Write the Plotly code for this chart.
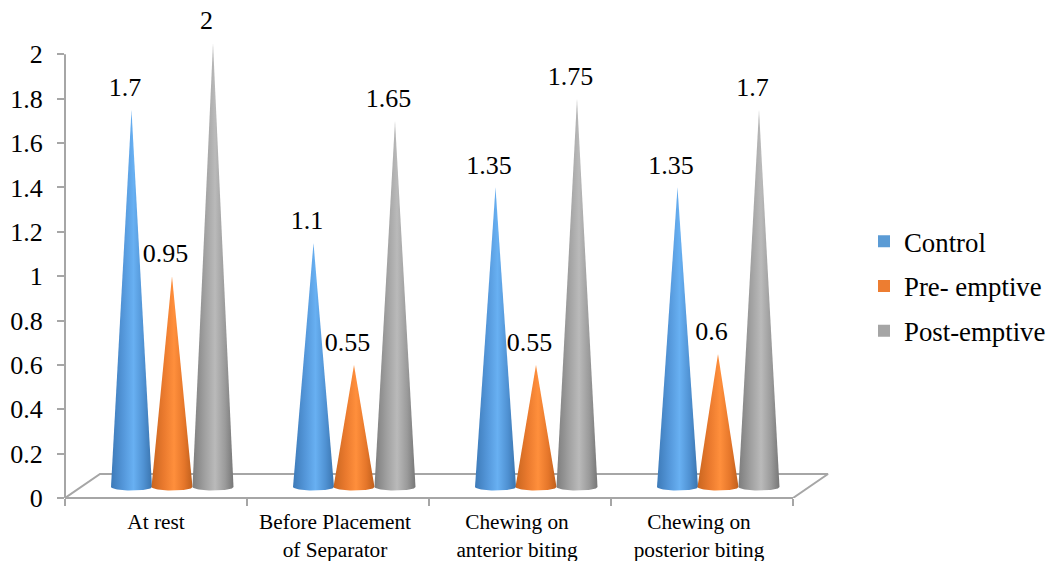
import numpy as np
import plotly.graph_objects as go

categories = ["At rest", "Before Placement<br>of Separator", "Chewing on<br>anterior biting", "Chewing on<br>posterior biting"]
series_names = ["Control", "Pre- emptive", "Post-emptive"]
control = [1.7, 1.1, 1.35, 1.35]
pre_emptive = [0.95, 0.55, 0.55, 0.6]
post_emptive = [2, 1.65, 1.75, 1.7]
value_labels = [["1.7", "1.1", "1.35", "1.35"], ["0.95", "0.55", "0.55", "0.6"], ["2", "1.65", "1.75", "1.7"]]
series_values = [control, pre_emptive, post_emptive]
legend_colors = ["#5b9bd5", "#ed7d31", "#a5a5a5"]
gradients = [
    [[0, "#3d7ab8"], [0.3, "#5497da"], [0.55, "#68b0f2"], [0.8, "#4f91d2"], [1, "#3a74ae"]],
    [[0, "#c9651f"], [0.3, "#ea7a2e"], [0.55, "#ff8f3c"], [0.8, "#e5762a"], [1, "#bf5f1c"]],
    [[0, "#7d7d7d"], [0.3, "#a0a0a0"], [0.55, "#bababa"], [0.8, "#9a9a9a"], [1, "#767676"]],
]

W, H = 1049, 561
L, R, T, B = 65, 793, 54, 498
AXIS = "#a6a6a6"
FONT = "Liberation Serif"
px_x = (R - L) / 4
px_y = (B - T) / 2
YMAX = 2.2
XMAX = 3.5 + 40 / px_x
plot_top = B - YMAX * px_y
plot_right = L + (XMAX + 0.5) * px_x
offsets = np.array([-24.5, 16, 57]) / px_x
half_w = 20.5 / px_x
base_y = 11 / px_y
semi = 3.5 / px_y

fig = go.Figure()
# chart floor
fx = np.array([-0.5, -0.5 + 35 / px_x, 3.5 + 35 / px_x, 3.5])
fy = np.array([0, 24 / px_y, 24 / px_y, 0])
fig.add_trace(go.Scatter(x=fx, y=fy, mode="lines", line=dict(color=AXIS, width=2),
                         cliponaxis=False, showlegend=False, hoverinfo="skip"))

theta = np.linspace(np.pi, 2 * np.pi, 40)
for c in range(len(categories)):
    for s, name in enumerate(series_names):
        v = series_values[s][c]
        cx = c + offsets[s]
        xs = np.concatenate([cx + half_w * np.cos(theta), [cx, cx - half_w]])
        ys = np.concatenate([base_y + semi * np.sin(theta), [base_y + v, base_y]])
        fig.add_trace(go.Scatter(
            x=xs, y=ys, mode="lines", line=dict(width=0), fill="toself",
            fillgradient=dict(type="horizontal", colorscale=gradients[s]),
            cliponaxis=False, showlegend=False, name=name, hoverinfo="skip"))

for s, name in enumerate(series_names):
    fig.add_trace(go.Scatter(
        x=[c + offsets[s] - 6.5 / px_x for c in range(4)],
        y=[v + base_y + 7.5 / px_y for v in series_values[s]],
        mode="text", text=value_labels[s], textposition="top center",
        textfont=dict(family=FONT, size=26, color="#000000"),
        cliponaxis=False, showlegend=False, hoverinfo="skip"))

for s, name in enumerate(series_names):
    fig.add_trace(go.Scatter(
        x=[None], y=[None], mode="markers", name=name, legendgroup=name,
        marker=dict(symbol="square", size=14, color=legend_colors[s])))

# axis lines stop at the last tick, while the plot area extends for the 3-D depth
fig.add_shape(type="line", xref="paper", yref="y", x0=0, x1=0, y0=0, y1=2,
              line=dict(color=AXIS, width=2), layer="above")
fig.add_shape(type="line", xref="x", yref="paper", x0=-0.5, x1=3.5, y0=0, y1=0,
              line=dict(color=AXIS, width=2), layer="above")

pw = plot_right - L
ph = B - plot_top
label_shift = 3 / px_x
fig.update_layout(
    width=W, height=H, autosize=False,
    margin=dict(l=L, r=W - plot_right, t=plot_top, b=H - B, pad=0, autoexpand=False),
    paper_bgcolor="white", plot_bgcolor="white",
    font=dict(family=FONT, color="#000000"),
    legend=dict(x=(864 - L) / pw, xanchor="left", y=1 - (217 - plot_top) / ph, yanchor="top",
                font=dict(family=FONT, size=26.8), tracegroupgap=7, itemsizing="constant",
                bgcolor="rgba(0,0,0,0)"),
    xaxis=dict(range=[-0.5, XMAX], tickmode="array",
               tickvals=[0, 1 - label_shift, 2 - label_shift, 3 - label_shift], ticktext=categories,
               ticks="", showgrid=False, zeroline=False, showline=False,
               automargin=False, ticklabelstandoff=9, tickfont=dict(family=FONT, size=21.3),
               minor=dict(tickmode="array", tickvals=[-0.5, 0.5, 1.5, 2.5, 3.5], ticks="outside",
                          ticklen=7, tickwidth=2, tickcolor=AXIS, showgrid=False)),
    yaxis=dict(range=[0, YMAX], tickmode="array", tickvals=[0, .2, .4, .6, .8, 1, 1.2, 1.4, 1.6, 1.8, 2],
               ticktext=["0", "0.2", "0.4", "0.6", "0.8", "1", "1.2", "1.4", "1.6", "1.8", "2"],
               ticks="outside", ticklen=7, tickwidth=2, tickcolor=AXIS, automargin=False,
               ticklabelstandoff=9, showgrid=False, zeroline=False, showline=False,
               tickfont=dict(family=FONT, size=26)),
)
fig.write_html("out.html", config=dict(displayModeBar=False),
               post_script="document.body.style.margin='0';document.documentElement.style.overflow='hidden';")
